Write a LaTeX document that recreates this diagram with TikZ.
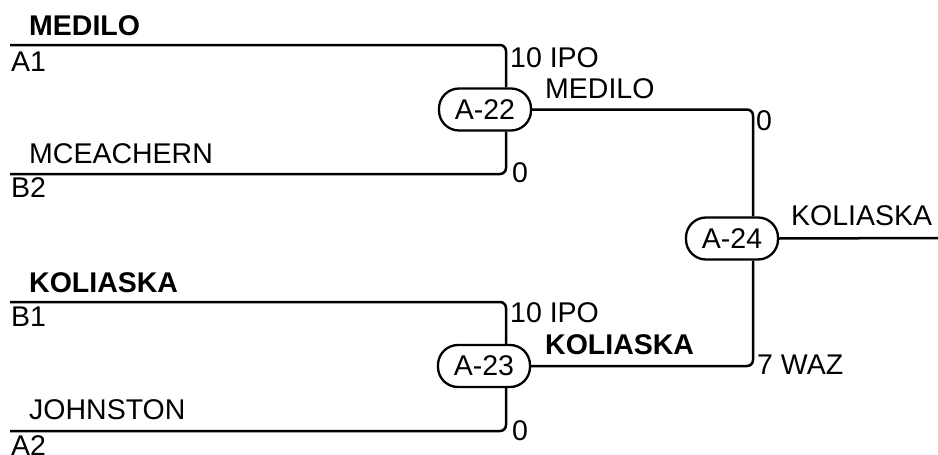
\documentclass[tikz,border=0pt]{standalone}
\usepackage{fontspec}
\setmainfont{Liberation Sans}
\begin{document}
\begin{tikzpicture}[x=1pt,y=-1pt,
  every node/.append style={font=\fontsize{28.5}{34}\selectfont},
  txt/.style={anchor=base west,inner sep=0pt},
  btxt/.style={txt,font=\fontsize{28.5}{34}\selectfont\bfseries},
  game/.style={draw,line width=2.3pt,rounded corners=20pt,minimum width=92pt,minimum height=42pt,inner sep=0pt},
  wire/.style={line width=2.5pt,rounded corners=6pt}]
\useasboundingbox (0,0) rectangle (938,455);
% game nodes
\node[game] (A22) at (485,109.5) {A-22};
\node[game] (A23) at (484,366) {A-23};
\node[game] (A24) at (732,238.5) {A-24};
% free ends
\coordinate (a1) at (10,45);
\coordinate (b2) at (10,174);
\coordinate (b1) at (10,302);
\coordinate (a2) at (10,431);
\coordinate (win) at (938,238);
% wires
\draw[wire] (a1) -| ([xshift=21pt]A22.north);
\draw[wire] (b2) -| ([xshift=21pt]A22.south);
\draw[wire] (b1) -| ([xshift=22pt]A23.north);
\draw[wire] (a2) -| ([xshift=22pt]A23.south);
\draw[wire] (A22.east) -| ([xshift=21pt]A24.north);
\draw[wire] (A23.east) -| ([xshift=21pt]A24.south);
\draw[wire] (A24.east) -- (win);
% texts
\node[btxt] (t1) at (29,35) {MEDILO};
\node[txt] (t2) at (11,71) {A1};
\node[txt] (t3) at (29,163) {MCEACHERN};
\node[txt] (t4) at (11,197) {B2};
\node[btxt] (t5) at (29,292) {KOLIASKA};
\node[txt] (t6) at (11,326) {B1};
\node[txt] (t7) at (29,419) {JOHNSTON};
\node[txt] (t8) at (11,455) {A2};
\node[txt] (s1) at (510,67) {10 IPO};
\node[txt] (s2) at (545,98) {MEDILO};
\node[txt] (s3) at (512,182) {0};
\node[txt] (s4) at (756,130) {0};
\node[txt] (s5) at (510,322) {10 IPO};
\node[btxt] (s6) at (545,354) {KOLIASKA};
\node[txt] (s7) at (512,440) {0};
\node[txt] (s8) at (757,374) {7 WAZ};
\node[txt] (s9) at (791,225) {KOLIASKA};
\end{tikzpicture}
\end{document}
